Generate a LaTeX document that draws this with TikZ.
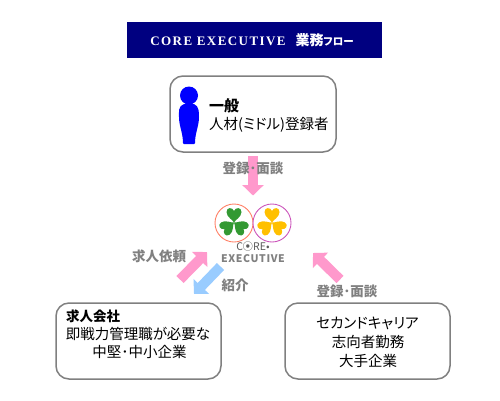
\documentclass[tikz,border=0pt]{standalone}
\usepackage{fontspec}
\setmainfont[RawFeature=+palt]{Noto Sans CJK JP}
\newfontfamily\titlefont{Liberation Serif}
\usetikzlibrary{arrows.meta}
\definecolor{navy}{HTML}{000080}
\definecolor{pinkarrow}{HTML}{FF99CC}
\definecolor{bluearrow}{HTML}{99CCFF}
\definecolor{labelgray}{HTML}{808080}
\definecolor{shamgreen}{HTML}{339933}
\definecolor{shamyellow}{HTML}{FFC000}
\definecolor{ringred}{HTML}{FF8066}
\definecolor{ringpink}{HTML}{CC55BB}
\tikzset{
  x=1bp,y=-1bp,
  card/.style={draw=labelgray,line width=1.5bp,rounded corners=13bp,fill=white},
  bodytext/.style={font=\fontsize{14.5bp}{18bp}\selectfont,text=black,inner sep=0pt},
  boldtext/.style={font=\fontsize{13.5bp}{16bp}\selectfont\bfseries,text=black,inner sep=0pt},
  labeltext/.style={font=\fontsize{13.5bp}{16bp}\selectfont\bfseries,text=labelgray,inner sep=0pt},
  blockpink/.style={draw=pinkarrow,line width=10bp,-{Triangle[length=10.5bp,width=21bp,fill=pinkarrow]}},
  blockblue/.style={draw=bluearrow,line width=10bp,-{Triangle[length=10.5bp,width=21bp,fill=bluearrow]}},
  heartshape/.pic={
    \fill[pic actions] (0,0) .. controls (-1,-2.5) and (-7.5,-5.5) .. (-7.5,-10.5)
      .. controls (-7.5,-15.5) and (-1.5,-15.5) .. (0,-11.5)
      .. controls (1.5,-15.5) and (7.5,-15.5) .. (7.5,-10.5)
      .. controls (7.5,-5.5) and (1,-2.5) .. (0,0) -- cycle;
  }
}
\begin{document}
\begin{tikzpicture}
\useasboundingbox (0,0) rectangle (500,400);
\fill[white] (0,0) rectangle (500,400);

% title
\node[fill=navy,minimum width=255bp,minimum height=36bp,inner sep=0pt,text=white] (title) at (254.5,40)
  {\titlefont\fontsize{13bp}{14bp}\selectfont\bfseries\addfontfeature{LetterSpace=11}CORE EXECUTIVE\hspace{10bp}{\normalfont\fontsize{14bp}{14bp}\selectfont\bfseries 業務{\fontsize{10.5bp}{14bp}\selectfont フロー}}\hspace*{5bp}};

% cards
\node[card,minimum width=166bp,minimum height=76bp] (general) at (253,114) {};
\node[card,minimum width=165bp,minimum height=76bp] (company) at (138.5,341) {};
\node[card,minimum width=165bp,minimum height=76bp] (senior) at (367.5,341) {};

% person
\fill[blue] (189,95.5) circle (9);
\fill[blue] (184,104) .. controls (178,106) and (179,112) .. (179,117)
  .. controls (179,126) and (183,133) .. (183,143)
  -- (184,144) -- (194,144) -- (195,143)
  .. controls (195,133) and (199,126) .. (199,117)
  .. controls (199,112) and (199,106) .. (194,104) -- cycle;

% card text
\node[boldtext,font=\fontsize{15bp}{16bp}\selectfont\bfseries,anchor=west] (t1) at (209,106) {一般};
\node[bodytext,anchor=west] (t2) at (209,124.5) {人材(ミドル)登録者};
\node[boldtext,anchor=west] (t3) at (66,316) {求人会社};
\node[bodytext] (t4) at (138,333.5) {即戦力管理職が必要な};
\node[bodytext] (t5) at (139.5,351.5) {中堅･中小企業};
\node[bodytext] (t6) at (367.5,323) {セカンドキャリア};
\node[bodytext] (t7) at (368,342) {志向者勤務};
\node[bodytext] (t8) at (368,360.5) {大手企業};

% connector ends
\coordinate (a1s) at (253,156); \coordinate (a1e) at (253,195.5);
\coordinate (a2s) at (180,279.5); \coordinate (a2e) at (207,252);
\coordinate (a3s) at (220.5,266.5); \coordinate (a3e) at (194,294);
\coordinate (a4s) at (340,279.5); \coordinate (a4e) at (313,253);
\draw[blockpink] (a1s) -- (a1e);
\draw[blockpink] (a2s) -- (a2e);
\draw[blockblue] (a3s) -- (a3e);
\draw[blockpink] (a4s) -- (a4e);

% logo
\draw[ringred,line width=0.9bp,fill=white] (234,223) circle (19);
\draw[ringpink,line width=0.9bp,fill=white] (272,223) circle (19);
\foreach \cx/\col in {234/shamgreen,272/shamyellow}{
  \foreach \ang in {0,125,235}{
    \pic[fill=\col,rotate=\ang] at (\cx,222.5) {heartshape};
  }
}
\node[inner sep=0pt,text=labelgray!70!black,font=\fontsize{10.5bp}{12bp}\selectfont] (core) at (253,246) {C\hspace{-0.5bp}⦿RE•};
\node[inner sep=0pt,text=labelgray,font=\fontsize{10.5bp}{12bp}\selectfont\bfseries\addfontfeature{LetterSpace=6}] (exec) at (253,259) {EXECUTIVE};

% labels
\node[labeltext] (l1) at (253,168) {登録･面談};
\node[labeltext] (l2) at (159,256) {求人依頼};
\node[labeltext] (l3) at (235,285) {紹介};
\node[labeltext] (l4) at (347,291.5) {登録･面談};
\end{tikzpicture}
\end{document}
